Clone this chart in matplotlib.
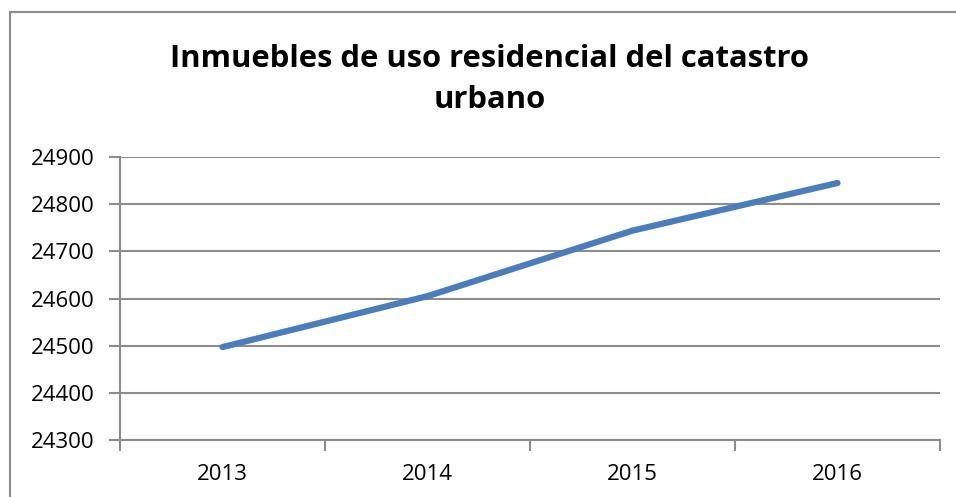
import matplotlib.pyplot as plt
import matplotlib.patches as mpatches
from matplotlib.ticker import FixedLocator, MultipleLocator

years = ['2013', '2014', '2015', '2016']
inmuebles = [24497, 24605, 24744, 24845]

plt.rcParams['font.family'] = ['Open Sans', 'DejaVu Sans']

fig = plt.figure(figsize=(9.56, 4.97), dpi=100)
ax = fig.add_axes([0.1255, 0.1147, 0.8578, 0.5693])

# chart area border (Excel style)
border = mpatches.Rectangle((10 / 956, -0.05), 1.0, 1 - 12 / 497 + 0.05,
                            transform=fig.transFigure, fill=False,
                            edgecolor='#8c8c8c', linewidth=1.5)
fig.patches.append(border)

x = list(range(len(years)))
ax.plot(x, inmuebles, color='#4a7ebb', linewidth=4.5, solid_capstyle='round',
        solid_joinstyle='round', zorder=3)

ax.set_xlim(-0.5, len(years) - 0.5)
ax.set_ylim(24300, 24900)
ax.yaxis.set_major_locator(MultipleLocator(100))
ax.grid(axis='y', color='#8c8c8c', linewidth=1.5)
ax.set_axisbelow(True)

ax.set_xticks(x)
ax.set_xticklabels(years)
ax.xaxis.set_minor_locator(FixedLocator([i - 0.5 for i in range(len(years) + 1)]))
ax.tick_params(axis='x', which='major', length=0, pad=17, labelsize=16)
ax.tick_params(axis='x', which='minor', length=8, width=1.5, color='#8c8c8c')
ax.tick_params(axis='y', length=8, width=1.5, color='#8c8c8c', pad=10, labelsize=16)

for side in ['top', 'right']:
    ax.spines[side].set_visible(False)
for side in ['left', 'bottom']:
    ax.spines[side].set_color('#8c8c8c')
    ax.spines[side].set_linewidth(1.5)

fig.text(0.5125, 0.84, 'Inmuebles de uso residencial del catastro\nurbano',
         ha='center', va='center', fontsize=22.3, fontweight='bold',
         linespacing=1.45)

fig.savefig('out.png', dpi=100)
